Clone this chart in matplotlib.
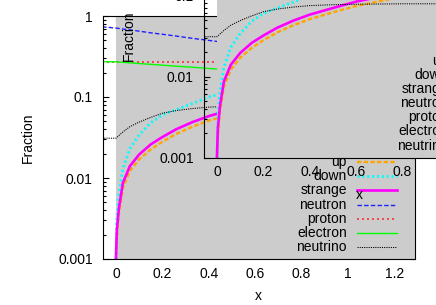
import matplotlib
matplotlib.use('Agg')
import matplotlib.pyplot as plt

plt.rcParams['font.family'] = ['Liberation Sans', 'DejaVu Sans']
plt.rcParams['font.size'] = 10
plt.rcParams['lines.scale_dashes'] = False

# quark phase fractions (start at x = 0)
x_quark = [0, 0.004, 0.013, 0.03, 0.06, 0.1, 0.15, 0.2, 0.26, 0.33, 0.4, 0.5, 0.6, 0.8, 1.0, 1.3]
up = [0.0009, 0.0019, 0.0037, 0.0075, 0.0122, 0.017, 0.0225, 0.028, 0.035, 0.043, 0.051, 0.062, 0.074, 0.097, 0.115, 0.14]
down = [0.001, 0.0033, 0.0065, 0.013, 0.023, 0.034, 0.048, 0.060, 0.070, 0.083, 0.10, 0.12, 0.14, 0.17, 0.20, 0.24]
strange = [0.001, 0.0023, 0.0043, 0.0087, 0.014, 0.0195, 0.026, 0.032, 0.040, 0.049, 0.058, 0.070, 0.084, 0.11, 0.13, 0.16]

# hadron / lepton fractions
x_had = [-0.06, 0, 0.03, 0.06, 0.1, 0.15, 0.2, 0.26, 0.33, 0.4, 0.5, 0.6, 0.8, 1.0, 1.3]
neutron = [0.735, 0.71, 0.69, 0.675, 0.65, 0.62, 0.595, 0.565, 0.53, 0.5, 0.46, 0.43, 0.37, 0.32, 0.26]
proton = [0.27] * len(x_had)
electron = [0.272, 0.272, 0.268, 0.264, 0.259, 0.253, 0.247, 0.240, 0.233, 0.225, 0.215, 0.205, 0.19, 0.175, 0.16]
neutrino = [0.031, 0.031, 0.037, 0.043, 0.049, 0.056, 0.063, 0.068, 0.072, 0.075, 0.077, 0.078, 0.079, 0.079, 0.079]

xticks = [0, 0.2, 0.4, 0.6, 0.8, 1.0, 1.2]
xtick_labels = ['0', '0.2', '0.4', '0.6', '0.8', '1', '1.2']
yticks = [0.001, 0.01, 0.1, 1]
ytick_labels = ['0.001', '0.01', '0.1', '1']

series = [
    ('up', x_quark, up, dict(color='#ffa500', lw=1.7, dashes=(3.2, 1.6))),
    ('down', x_quark, down, dict(color='#00ffff', lw=2.0, dashes=(1.5, 2.0))),
    ('strange', x_quark, strange, dict(color='#ff00ff', lw=1.9, ls='-')),
    ('neutron', x_had, neutron, dict(color='#2020ff', lw=1.0, dashes=(3.2, 1.6))),
    ('proton', x_had, proton, dict(color='#ff2020', lw=1.1, dashes=(1.4, 2.2))),
    ('electron', x_had, electron, dict(color='#00ff00', lw=1.0, ls='-')),
    ('neutrino', x_had, neutrino, dict(color='black', lw=0.75, dashes=(0.8, 0.8))),
]


def draw(ax):
    ax.set_yscale('log')
    ax.set_xlim(-0.058, 1.29)
    ax.set_ylim(0.001, 1)
    ax.set_axisbelow(True)
    ax.axvspan(0, 1.29, color='#cccccc', lw=0, zorder=1)
    for i, (label, xs, ys, st) in enumerate(series):
        ax.plot(xs, ys, zorder=2 + i * 0.1, **st)
        # legend entry, right-aligned text with sample on the right
        yy = 0.399 - i * 0.0584
        ax.text(0.782, yy, label, transform=ax.transAxes, ha='right', va='center',
                clip_on=False, zorder=3)
        ax.plot([0.814, 0.942], [yy, yy], transform=ax.transAxes, clip_on=False,
                zorder=3, **st)
    ax.set_xticks(xticks)
    ax.set_xticklabels(xtick_labels)
    ax.set_yticks(yticks)
    ax.set_yticklabels(ytick_labels)
    ax.tick_params(which='both', direction='in', top=True, right=True, width=0.8)
    ax.tick_params(which='major', length=4.3, pad=5.5)
    ax.tick_params(axis='y', which='major', pad=7)
    ax.tick_params(which='minor', length=2.2)
    for sp in ax.spines.values():
        sp.set_linewidth(0.8)
        sp.set_zorder(4)
    ax.set_xlabel('x')
    ax.set_ylabel('Fraction')
    ax.xaxis.set_label_coords(0.5, -0.125)
    ax.yaxis.set_label_coords(-0.215, 0.5)


fig = plt.figure(figsize=(4.36, 3.05), dpi=100)
main = fig.add_axes([102.5 / 436, 46 / 305, 312.5 / 436, 243 / 305])
main.set_facecolor('white')
draw(main)

inset = fig.add_axes([203.5 / 436, 147.5 / 305, 312.5 / 436, 243 / 305])
inset.set_facecolor('none')
draw(inset)

fig.savefig('out.png', dpi=100)
